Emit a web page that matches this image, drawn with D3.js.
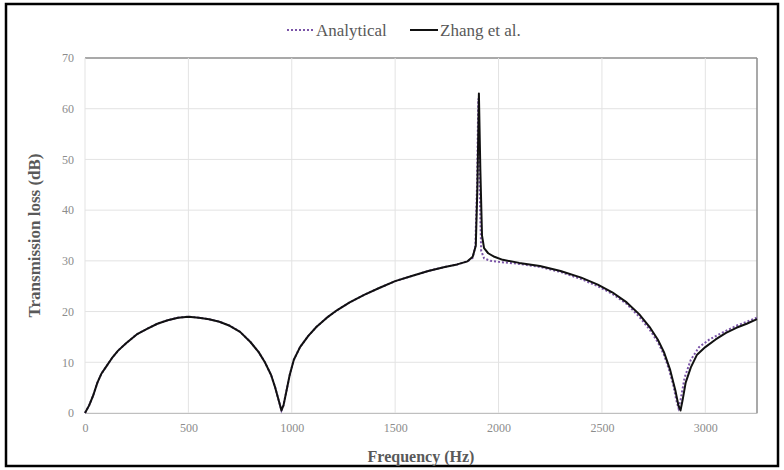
<!DOCTYPE html>
<html>
<head>
<meta charset="utf-8">
<script src="https://cdn.jsdelivr.net/npm/d3@7"></script>
<style>
  body { margin: 0; background: #fff; }
  svg text { font-family: "Liberation Serif", "DejaVu Serif", serif; }
</style>
</head>
<body>
<svg id="chart" width="784" height="470"></svg>
<script>
// Zhang et al. (solid black)
const zhangFreq = [0,20,40,60,80,100,130,160,200,250,300,350,400,450,500,550,600,650,700,750,800,840,870,900,920,940,950,960,975,990,1010,1040,1080,1120,1170,1220,1280,1350,1420,1500,1580,1660,1740,1800,1850,1875,1890,1898,1905,1912,1920,1930,1950,1980,2020,2100,2200,2300,2400,2480,2550,2620,2680,2730,2770,2800,2830,2855,2870,2880,2890,2905,2930,2960,3000,3050,3100,3150,3200,3250];
const zhangTL = [0,1.5,3.5,6,7.8,9,10.8,12.3,13.8,15.5,16.6,17.6,18.3,18.8,19,18.8,18.5,18,17.2,16,14,12,10,7.5,5,2,0.5,1.5,4.5,7.5,10.5,13,15.2,17,18.8,20.3,21.8,23.3,24.6,26,27,28,28.8,29.3,29.9,30.8,33,45,63,48,35,32.5,31.5,30.8,30.2,29.6,29,28,26.7,25.3,23.8,21.8,19.5,17,14.5,12,8.5,4.5,1.5,0.5,2.5,6,9,11.5,13,14.5,15.8,16.8,17.6,18.5];

// Analytical (dotted purple)
const anaFreq = [0,20,40,60,80,100,130,160,200,250,300,350,400,450,500,550,600,650,700,750,800,840,870,900,920,940,950,960,975,990,1010,1040,1080,1120,1170,1220,1280,1350,1420,1500,1580,1660,1740,1800,1850,1875,1888,1896,1902,1908,1916,1930,1960,2000,2100,2200,2300,2400,2480,2550,2620,2680,2730,2770,2800,2825,2845,2860,2870,2880,2900,2930,2970,3020,3080,3150,3200,3250];
const anaTL = [0,1.5,3.5,6,7.8,9,10.8,12.3,13.8,15.5,16.6,17.6,18.3,18.8,19,18.8,18.5,18,17.2,16,14,12,10,7.5,5,2,0.5,1.5,4.5,7.5,10.5,13,15.2,17,18.8,20.3,21.8,23.3,24.6,26,27,28,28.8,29.3,29.9,30.6,33,45,62,45,32,30.5,30,29.8,29.4,28.8,27.8,26.4,25,23.5,21.5,19,16.5,14,11.5,8.5,5.5,2.5,1,2.5,7,10.5,13,14.5,15.8,17.2,18,18.8];

const xTicks = [0,500,1000,1500,2000,2500,3000];
const yTicks = [0,10,20,30,40,50,60,70];

const svg = d3.select("#chart");
const margin = { top: 58, right: 27, bottom: 57, left: 85 };
const width = 784, height = 470;

// outer frame
svg.append("rect")
  .attr("x", 6).attr("y", 4)
  .attr("width", 772).attr("height", 462)
  .attr("fill", "none")
  .attr("stroke", "#000")
  .attr("stroke-width", 2.5);

const x = d3.scaleLinear()
  .domain([0, 3250])
  .range([margin.left, width - margin.right]);

const y = d3.scaleLinear()
  .domain([0, 70])
  .range([height - margin.bottom, margin.top]);

// gridlines
svg.append("g")
  .selectAll("line")
  .data(yTicks)
  .enter().append("line")
  .attr("x1", x(0)).attr("x2", x(3250))
  .attr("y1", d => y(d)).attr("y2", d => y(d))
  .attr("stroke", d => d === 70 ? "#8c8c8c" : "#e3e3e3")
  .attr("stroke-width", d => d === 70 ? 1.5 : 1);

svg.append("g")
  .selectAll("line")
  .data(xTicks)
  .enter().append("line")
  .attr("x1", d => x(d)).attr("x2", d => x(d))
  .attr("y1", y(0)).attr("y2", y(70))
  .attr("stroke", "#e3e3e3");

// right border
svg.append("line")
  .attr("x1", x(3250)).attr("x2", x(3250))
  .attr("y1", y(0)).attr("y2", y(70))
  .attr("stroke", "#8c8c8c")
  .attr("stroke-width", 1.5);

// X-axis
const xAxis = svg.append("g")
  .attr("transform", `translate(0,${y(0)})`)
  .call(d3.axisBottom(x).tickValues(xTicks).tickFormat(d3.format("d")).tickSize(0).tickPadding(10));
xAxis.select(".domain").attr("stroke", "#bfbfbf");
xAxis.selectAll("text")
  .attr("fill", "#8c8c8c")
  .style("font-size", "12px")
  .style("font-family", "Liberation Serif, serif");

// Y-axis
const yAxis = svg.append("g")
  .attr("transform", `translate(${x(0)},0)`)
  .call(d3.axisLeft(y).tickValues(yTicks).tickFormat(d3.format("d")).tickSize(0).tickPadding(11));
yAxis.select(".domain").remove();
yAxis.selectAll("text")
  .attr("fill", "#8c8c8c")
  .style("font-size", "12px")
  .style("font-family", "Liberation Serif, serif");

// lines
const line = d3.line()
  .x(d => x(d[0]))
  .y(d => y(d[1]));

svg.append("path")
  .datum(anaFreq.map((f, i) => [f, anaTL[i]]))
  .attr("fill", "none")
  .attr("stroke", "#7b55a8")
  .attr("stroke-width", 2)
  .attr("stroke-dasharray", "2,2")
  .attr("d", line);

svg.append("path")
  .datum(zhangFreq.map((f, i) => [f, zhangTL[i]]))
  .attr("fill", "none")
  .attr("stroke", "#111")
  .attr("stroke-width", 2)
  .attr("stroke-linejoin", "round")
  .attr("d", line);

// axis titles
svg.append("text")
  .attr("x", (x(0) + x(3250)) / 2)
  .attr("y", 462)
  .attr("text-anchor", "middle")
  .attr("fill", "#595959")
  .style("font-size", "16px")
  .style("font-weight", "bold")
  .text("Frequency (Hz)");

svg.append("text")
  .attr("transform", `translate(40,${(y(0) + y(70)) / 2}) rotate(-90)`)
  .attr("text-anchor", "middle")
  .attr("fill", "#595959")
  .style("font-size", "17px")
  .style("font-weight", "bold")
  .text("Transmission loss (dB)");

// legend
const legend = svg.append("g").attr("transform", "translate(0,30)");
legend.append("line")
  .attr("x1", 287).attr("x2", 313)
  .attr("stroke", "#7b55a8").attr("stroke-width", 2)
  .attr("stroke-dasharray", "2,2");
legend.append("text")
  .attr("x", 316).attr("y", 6)
  .attr("fill", "#595959")
  .style("font-size", "17px")
  .text("Analytical");
legend.append("line")
  .attr("x1", 410).attr("x2", 438)
  .attr("stroke", "#111").attr("stroke-width", 2);
legend.append("text")
  .attr("x", 440).attr("y", 6)
  .attr("fill", "#595959")
  .style("font-size", "17px")
  .text("Zhang et al.");
</script>
</body>
</html>
